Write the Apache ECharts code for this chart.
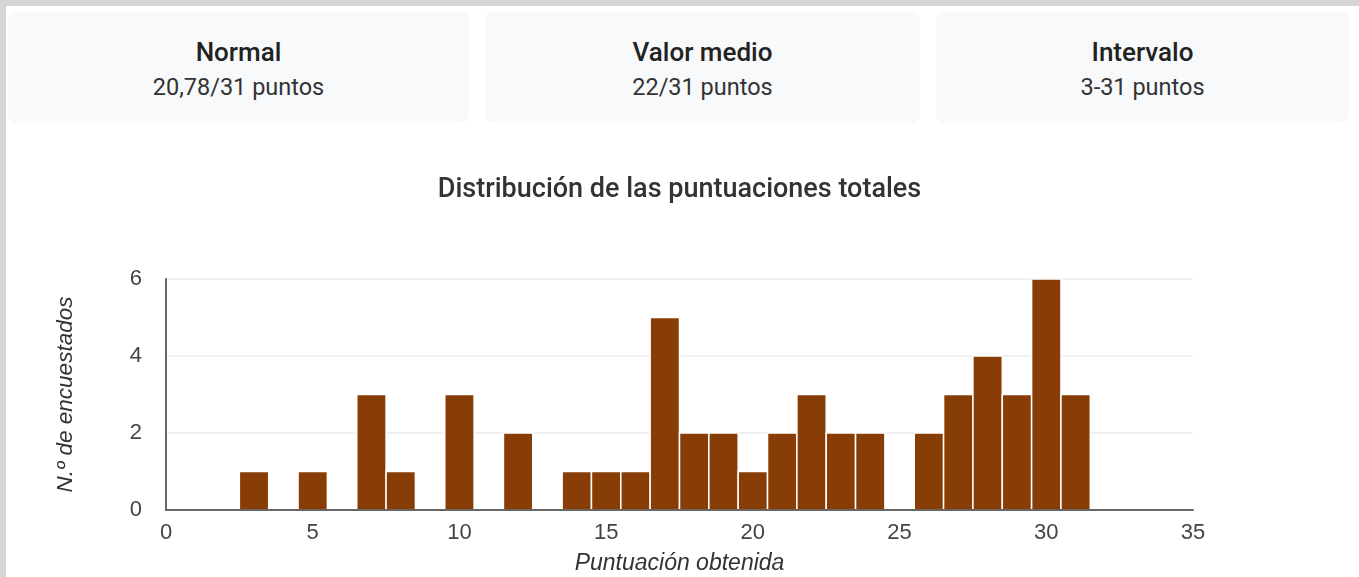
<!DOCTYPE html>
<html>
<head>
<meta charset="utf-8">
<script src="https://cdn.jsdelivr.net/npm/echarts@6/dist/echarts.min.js"></script>
<style>
  html, body { margin: 0; padding: 0; }
  body { width: 1359px; height: 577px; background: #d6d6d6; position: relative; overflow: hidden; font-family: Roboto, sans-serif; }
  #page { position: absolute; left: 6px; top: 6px; right: 0; bottom: 0; background: #fff; }
  .card { position: absolute; top: 12px; height: 111px; background: #f8f9fa; border-radius: 8px; text-align: center; }
  .card .t { position: absolute; left: 0; right: 0; top: 25px; font-size: 26px; line-height: 30px; font-weight: 500; color: #222; }
  .card .v { position: absolute; left: 0; right: 0; top: 61px; font-size: 23.5px; line-height: 28px; color: #333; }
  #chart { position: absolute; left: 0; top: 0; width: 1359px; height: 577px; }
</style>
</head>
<body>
<div id="page"></div>
<div id="cards"></div>
<div id="chart"></div>
<script>
// summary cards
var cardTitles = ['Normal', 'Valor medio', 'Intervalo'];
var cardValues = ['20,78/31 puntos', '22/31 puntos', '3-31 puntos'];
var cardLeft = [8, 485, 936];
var cardWidth = [461, 435, 413];

// histogram: score -> number of respondents
var scores = [3, 5, 7, 8, 10, 12, 14, 15, 16, 17, 18, 19, 20, 21, 22, 23, 24, 26, 27, 28, 29, 30, 31];
var counts = [1, 1, 3, 1, 3, 2, 1, 1, 1, 5, 2, 2, 1, 2, 3, 2, 2, 2, 3, 4, 3, 6, 3];
var xTicks = [0, 35, 5];   // min, max, step
var yTicks = [0, 6, 2];

var cardsEl = document.getElementById('cards');
for (var i = 0; i < cardTitles.length; i++) {
  var c = document.createElement('div');
  c.className = 'card';
  c.style.left = cardLeft[i] + 'px';
  c.style.width = cardWidth[i] + 'px';
  c.innerHTML = '<div class="t">' + cardTitles[i] + '</div><div class="v">' + cardValues[i] + '</div>';
  cardsEl.appendChild(c);
}

var histData = [];
for (var i in scores) histData.push([scores[i], counts[i]]);

var myChart = echarts.init(document.getElementById('chart'));
var labelFont = 'Liberation Sans, Arial, sans-serif';

var option = {
  animation: false,
  title: {
    text: 'Distribución de las puntuaciones totales',
    left: 'center',
    top: 172,
    textStyle: {
      fontFamily: 'Roboto',
      fontWeight: 500,
      fontSize: 27,
      color: '#333',
    },
  },
  grid: {
    left: 166,
    right: 166,
    top: 279,
    bottom: 67,
  },
  xAxis: {
    type: 'value',
    z: 3, // axis line drawn over bar bottoms
    min: xTicks[0],
    max: xTicks[1],
    interval: xTicks[2],
    name: 'Puntuación obtenida',
    nameLocation: 'middle',
    nameGap: 42,
    nameTextStyle: {
      fontFamily: labelFont,
      fontStyle: 'italic',
      fontSize: 23,
      color: '#333',
    },
    axisLine: { show: true, lineStyle: { color: '#666', width: 2 } },
    axisTick: { show: false },
    splitLine: { show: false },
    axisLabel: {
      margin: 12,
      fontFamily: labelFont,
      fontSize: 22,
      color: '#444',
    },
  },
  yAxis: {
    type: 'value',
    min: yTicks[0],
    max: yTicks[1],
    interval: yTicks[2],
    name: 'N.º de encuestados',
    nameLocation: 'middle',
    nameGap: 89,
    nameTextStyle: {
      fontFamily: labelFont,
      fontStyle: 'italic',
      fontSize: 22.5,
      color: '#333',
    },
    axisLine: { show: true, lineStyle: { color: '#666', width: 2 } },
    axisTick: { show: false },
    splitLine: { lineStyle: { color: '#f0f0f0', width: 2 } },
    axisLabel: {
      margin: 24,
      fontFamily: labelFont,
      fontSize: 22,
      color: '#444',
    },
  },
  series: [{
    type: 'custom',
    data: histData,
    z: 1,
    renderItem: function (params, api) {
      var x = api.value(0);
      var p0 = api.coord([x - 0.5, api.value(1)]);
      var p1 = api.coord([x + 0.5, 0]);
      return {
        type: 'rect',
        shape: { x: p0[0], y: p0[1], width: p1[0] - p0[0], height: p1[1] - p0[1] },
        style: { fill: '#873d05', stroke: '#fff', lineWidth: 1.5 },
      };
    },
  }],
};

myChart.setOption(option);
</script>
</body>
</html>
